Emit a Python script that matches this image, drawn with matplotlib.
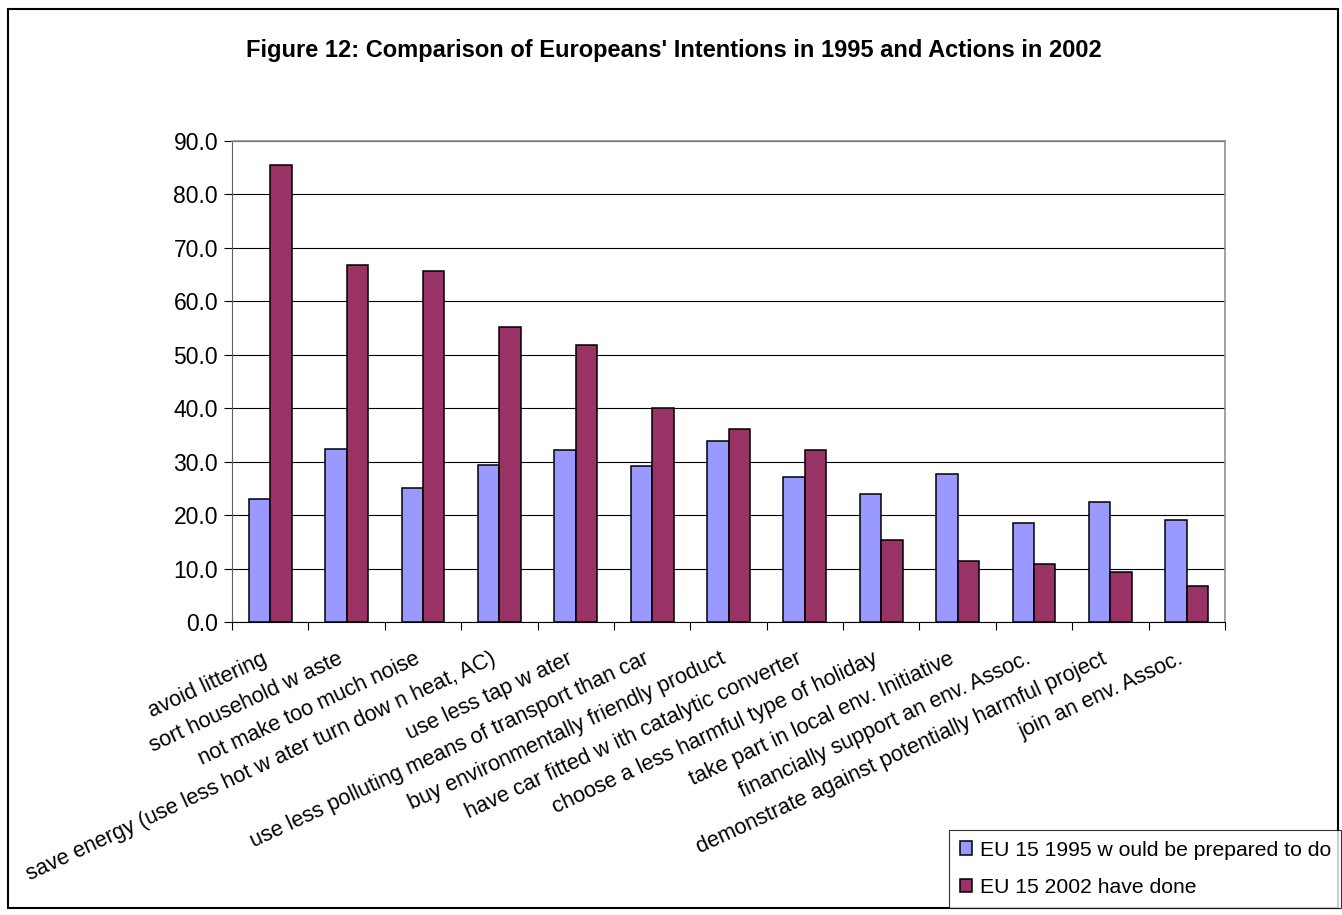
import numpy as np
import matplotlib
matplotlib.use('Agg')
import matplotlib.pyplot as plt
from matplotlib.patches import Rectangle
from matplotlib.transforms import ScaledTranslation

plt.rcParams['font.family'] = ['Liberation Sans', 'DejaVu Sans']

categories = [
    'avoid littering',
    'sort household w aste',
    'not make too much noise',
    'save energy (use less hot w ater turn dow n heat, AC)',
    'use less tap w ater',
    'use less polluting means of transport than car',
    'buy environmentally friendly product',
    'have car fitted w ith catalytic converter',
    'choose a less harmful type of holiday',
    'take part in local env. Initiative',
    'financially support an env. Assoc.',
    'demonstrate against potentially harmful project',
    'join an env. Assoc.',
]
would_1995 = [23.1, 32.4, 25.0, 29.4, 32.1, 29.1, 33.9, 27.2, 23.9, 27.6, 18.6, 22.4, 19.0]
done_2002 = [85.5, 66.8, 65.7, 55.2, 51.8, 40.0, 36.2, 32.1, 15.3, 11.5, 10.8, 9.3, 6.7]
series_names = ['EU 15 1995 w ould be prepared to do', 'EU 15 2002 have done']
yticks = np.arange(0, 91, 10)

blue = '#9999FF'
maroon = '#993366'

fig = plt.figure(figsize=(13.42, 9.15), dpi=100)
ax = fig.add_axes([232/1342, 1 - 622/915, (1225-232)/1342, (622-141)/915])

x = np.arange(len(categories))
w = 0.28
b1 = ax.bar(x - w/2, would_1995, w, color=blue, edgecolor='black', linewidth=1.1,
            label=series_names[0], zorder=3)
b2 = ax.bar(x + w/2, done_2002, w, color=maroon, edgecolor='black', linewidth=1.1,
            label=series_names[1], zorder=3)

ax.set_xlim(-0.5, len(categories) - 0.5)
ax.set_ylim(0, 90)
ax.set_yticks(yticks)
ax.set_yticklabels([f'{v:.1f}' for v in yticks], fontsize=16.5)
ax.yaxis.grid(True, color='black', linewidth=0.8, zorder=0)
ax.set_axisbelow(True)

# boundary ticks, labels at centres
ax.set_xticks(np.arange(-0.5, len(categories) + 0.5, 1))
ax.set_xticklabels([])
ax.set_xticks(x, minor=True)
labels = ax.set_xticklabels(categories, minor=True, rotation=25, ha='right',
                            rotation_mode='anchor', fontsize=15.7)
ax.tick_params(axis='x', which='minor', length=0, pad=19)
ax.tick_params(axis='x', which='major', length=6, width=0.8, direction='out')
ax.tick_params(axis='y', length=6, width=0.8, direction='out', pad=4)

# labels end a little left of the category centre
for lab in labels:
    lab.set_transform(lab.get_transform() + ScaledTranslation(-0.09, 0, fig.dpi_scale_trans))

for s in ['top', 'right']:
    ax.spines[s].set_color('#909090')
    ax.spines[s].set_linewidth(1.2)
ax.spines['left'].set_color('#606060')
ax.spines['bottom'].set_color('black')

fig.text(0.502, 1 - 51/915,
         "Figure 12: Comparison of Europeans' Intentions in 1995 and Actions in 2002",
         ha='center', va='center', fontsize=17, fontweight='bold')

leg = fig.legend(handles=[b1, b2], loc='upper left',
                 bbox_to_anchor=(949/1342, 1 - 830/915), borderaxespad=0,
                 fontsize=15.2, frameon=True, fancybox=False, edgecolor='black',
                 handlelength=0.6, handleheight=0.6, handletextpad=0.35,
                 labelspacing=0.88, borderpad=0.5)
leg.get_frame().set_linewidth(0.8)

fig.patches.append(Rectangle((8/1342, 1 - 908/915), (1338-8)/1342, (908-9)/915,
                             transform=fig.transFigure, fill=False,
                             edgecolor='black', linewidth=1.5))

fig.savefig('out.png', dpi=100)
